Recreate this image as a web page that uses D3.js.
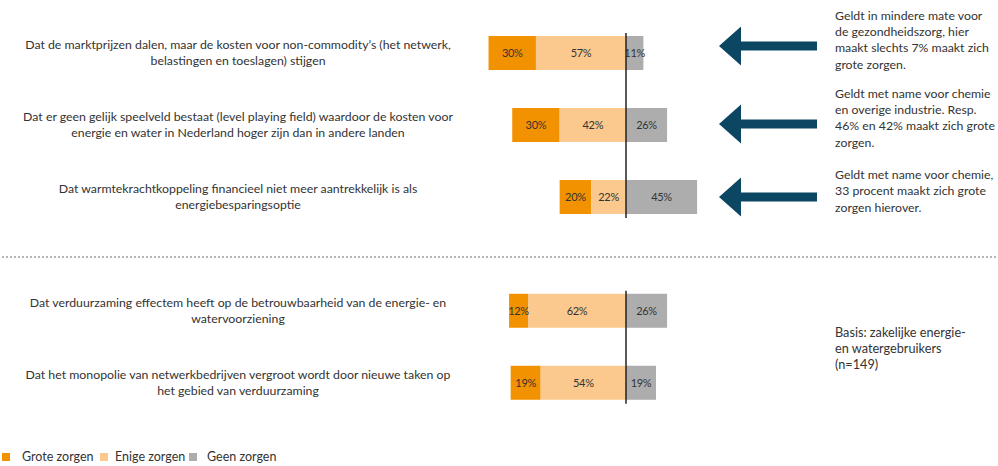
<!DOCTYPE html>
<html>
<head>
    <meta charset="utf-8">
    <title>Zorgen zakelijke gebruikers</title>
    <script src="https://d3js.org/d3.v7.min.js"></script>
    <style>
        body { margin: 0; background: #fff; }
        text { font-family: Lato, "Open Sans", sans-serif; fill: #333; }
    </style>
</head>
<body>
    <svg width="998" height="466" id="mainSvg"></svg>
    <script>
        // data
        const statements = [
            ["Dat de marktprijzen dalen, maar de kosten voor non-commodity\u2019s (het netwerk,", "belastingen en toeslagen) stijgen"],
            ["Dat er geen gelijk speelveld bestaat (level playing field) waardoor de kosten voor", "energie en water in Nederland hoger zijn dan in andere landen"],
            ["Dat warmtekrachtkoppeling financieel niet meer aantrekkelijk is als", "energiebesparingsoptie"],
            ["Dat verduurzaming effectem heeft op de betrouwbaarheid van de energie- en", "watervoorziening"],
            ["Dat het monopolie van netwerkbedrijven vergroot wordt door nieuwe taken op", "het gebied van verduurzaming"]
        ];
        const groep = [0, 0, 0, 1, 1];
        const grote = [30, 30, 20, 12, 19];
        const enige = [57, 42, 22, 62, 54];
        const geen = [11, 26, 45, 26, 19];
        const series = ["Grote zorgen", "Enige zorgen", "Geen zorgen"];
        const colors = ["#f39200", "#fbc98e", "#adadae"];

        const notes = [
            ["Geldt in mindere mate voor", "de gezondheidszorg, hier", "maakt slechts 7% maakt zich", "grote zorgen."],
            ["Geldt met name voor chemie", "en overige industrie. Resp.", "46% en 42% maakt zich grote", "zorgen."],
            ["Geldt met name voor chemie,", "33 procent maakt zich grote", "zorgen hierover."]
        ];
        const noteShift = [-9, -3, -2];
        const arrowShift = [-7, -1, 0];
        const basis = ["Basis:  zakelijke energie-", "en watergebruikers", "(n=149)"];

        const svg = d3.select("#mainSvg");

        const x = d3.scaleLinear().domain([-100, 100]).range([468, 784]);
        const slot = d => d + (d >= 3 ? 0.58 : 0);
        const y = d3.scaleLinear().domain([0, 1]).range([53, 125]);
        const barH = 34;

        const rows = statements.map((s, i) => ({
            i, lines: s, g: groep[i],
            segs: [
                { k: 0, x0: -(grote[i] + enige[i]), x1: -enige[i], v: grote[i] },
                { k: 1, x0: -enige[i], x1: 0, v: enige[i] },
                { k: 2, x0: 0, x1: geen[i], v: geen[i] }
            ]
        }));

        // statement labels
        svg.append("g").selectAll("text").data(rows).join("text")
            .attr("x", 238)
            .attr("text-anchor", "middle")
            .attr("font-size", 12.3)
            .each(function (d) {
                const cy = y(slot(d.i));
                d3.select(this).selectAll("tspan").data(d.lines).join("tspan")
                    .attr("x", 238)
                    .attr("y", (l, j) => cy - 8 + j * 16)
                    .attr("dy", "0.35em")
                    .text(l => l);
            });

        // bars
        const rowG = svg.append("g").selectAll("g").data(rows).join("g")
            .attr("transform", d => `translate(0,${y(slot(d.i)) - barH / 2})`);

        rowG.selectAll("rect").data(d => d.segs).join("rect")
            .attr("x", s => x(s.x0))
            .attr("width", s => x(s.x1) - x(s.x0))
            .attr("height", barH)
            .attr("fill", s => colors[s.k]);

        rowG.selectAll("text").data(d => d.segs).join("text")
            .attr("x", s => (x(s.x0) + x(s.x1)) / 2)
            .attr("y", barH / 2)
            .attr("dy", "0.35em")
            .attr("text-anchor", "middle")
            .attr("font-size", 11)
            .attr("letter-spacing", -0.3)
            .text(s => s.v + "%");

        // center lines per group
        [0, 1].forEach(gr => {
            const idx = groep.map((g, i) => g === gr ? i : -1).filter(i => i >= 0);
            svg.append("line")
                .attr("x1", x(0)).attr("x2", x(0))
                .attr("y1", y(slot(idx[0])) - barH / 2 - 3)
                .attr("y2", y(slot(idx[idx.length - 1])) + barH / 2 + 4)
                .attr("stroke", "#222")
                .attr("stroke-width", 1.5);
        });

        // dotted separator
        svg.append("line")
            .attr("x1", 3).attr("x2", 996)
            .attr("y1", 257).attr("y2", 257)
            .attr("stroke", "#9a9a9a")
            .attr("stroke-width", 2)
            .attr("stroke-linecap", "round")
            .attr("stroke-dasharray", "0,4");

        // arrows + notes
        const arrow = d3.line();
        notes.forEach((n, i) => {
            const cy = y(slot(i)) + arrowShift[i];
            svg.append("path")
                .attr("d", arrow([[719, cy], [741, cy - 19.5], [741, cy - 4.5], [817, cy - 4.5],
                    [817, cy + 4.5], [741, cy + 4.5], [741, cy + 19.5]]) + "Z")
                .attr("fill", "#0b4663");
            const t = svg.append("text").attr("font-size", 12.3);
            const top = y(slot(i)) + noteShift[i] - (n.length - 1) * 16.3 / 2 - 4;
            t.selectAll("tspan").data(n).join("tspan")
                .attr("x", 835)
                .attr("y", (l, j) => top + j * 16.3)
                .attr("dy", "0.35em")
                .text(l => l);
        });

        svg.append("text").attr("font-size", 12.7)
            .selectAll("tspan").data(basis).join("tspan")
            .attr("x", 835)
            .attr("y", (l, j) => 333 + j * 16)
            .attr("dy", "0.35em")
            .text(l => l);

        // legend
        const legX = [2, 100, 189];
        const leg = svg.append("g").selectAll("g").data(series).join("g")
            .attr("transform", (d, i) => `translate(${legX[i]},453)`);
        leg.append("rect").attr("width", 8).attr("height", 8).attr("fill", (d, i) => colors[i]);
        leg.append("text").attr("x", (d, i) => [20, 15, 18][i]).attr("y", 4).attr("dy", "0.35em")
            .attr("font-size", 12.5).text(d => d);
    </script>
</body>
</html>
